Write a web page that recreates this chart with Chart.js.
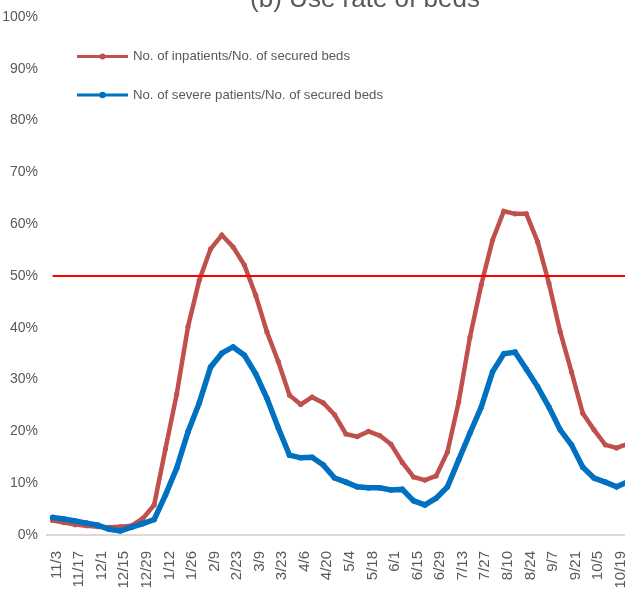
<!DOCTYPE html>
<html>
<head>
<meta charset="utf-8">
<script src="https://cdn.jsdelivr.net/npm/chart.js@4.4.1/dist/chart.umd.min.js"></script>
<style>
  html, body { margin: 0; padding: 0; background: #ffffff; overflow: hidden; }
  #wrap { position: relative; width: 625px; height: 599px; overflow: hidden; }
  canvas { display: block; }
</style>
</head>
<body>
<div id="wrap"><canvas id="c" width="654" height="599"></canvas></div>
<script>
const TITLE = "(b) Use rate of beds";
const weeks = ["11/3","11/10","11/17","11/24","12/1","12/8","12/15","12/22","12/29","1/5","1/12","1/19","1/26","2/2","2/9","2/16","2/23","3/2","3/9","3/16","3/23","3/30","4/6","4/13","4/20","4/27","5/4","5/11","5/18","5/25","6/1","6/8","6/15","6/22","6/29","7/6","7/13","7/20","7/27","8/3","8/10","8/17","8/24","8/31","9/7","9/14","9/21","9/28","10/5","10/12","10/19","10/26"];
const inpatientsLabel = "No. of inpatients/No. of secured beds";
const inpatients = [2.8,2.4,2.0,1.8,1.6,1.5,1.6,1.8,3.2,5.8,16.6,27.2,40.2,49.2,55.2,57.9,55.6,52.1,46.3,39.2,33.5,27.0,25.2,26.6,25.5,23.2,19.5,19.0,20.0,19.2,17.5,14.0,11.2,10.6,11.4,16.0,25.7,38.2,48.3,56.9,62.5,62.0,62.0,56.6,48.6,39.2,31.5,23.5,20.3,17.4,16.8,17.6];
const severeLabel = "No. of severe patients/No. of secured beds";
const severe = [3.4,3.1,2.7,2.3,1.9,1.1,0.8,1.5,2.2,3.0,7.7,12.9,19.9,25.5,32.4,35.1,36.3,34.7,31.1,26.4,20.7,15.4,14.9,15.0,13.5,11.0,10.2,9.3,9.1,9.1,8.7,8.8,6.6,5.8,7.1,9.3,14.5,19.7,24.7,31.5,35.0,35.3,32.0,28.6,24.7,20.3,17.4,13.1,11.0,10.2,9.3,10.3];
const THRESHOLD = 50;
const yTicks = [0,10,20,30,40,50,60,70,80,90,100];

const RED = "#C0504D";
const BLUE = "#0070C0";
const GRAY_TEXT = "#595959";

const overlay = {
  id: "overlay",
  afterDatasetsDraw(chart) {
    const ctx = chart.ctx;
    const x = chart.scales.x, y = chart.scales.y;
    const yy = y.getPixelForValue(THRESHOLD);
    ctx.save();
    ctx.strokeStyle = "#FF0000";
    ctx.lineWidth = 2;
    ctx.beginPath();
    ctx.moveTo(x.getPixelForValue(0), yy);
    ctx.lineTo(chart.chartArea.right, yy);
    ctx.stroke();
    ctx.restore();
  },
  afterDraw(chart) {
    const ctx = chart.ctx;
    ctx.save();
    ctx.fillStyle = GRAY_TEXT;
    ctx.font = "26px 'Liberation Sans', Arial, sans-serif";
    ctx.textAlign = "center";
    ctx.textBaseline = "alphabetic";
    ctx.fillText(TITLE, 365, 7);
    const items = [
      { label: chart.data.datasets[1].label, color: RED, y: 56.5, lw: 3, r: 3 },
      { label: chart.data.datasets[0].label, color: BLUE, y: 95, lw: 3, r: 3.2 }
    ];
    ctx.font = "13.2px 'Liberation Sans', Arial, sans-serif";
    ctx.textAlign = "left";
    ctx.textBaseline = "middle";
    items.forEach(it => {
      ctx.strokeStyle = it.color;
      ctx.lineWidth = it.lw;
      ctx.beginPath();
      ctx.moveTo(77, it.y);
      ctx.lineTo(128, it.y);
      ctx.stroke();
      ctx.fillStyle = it.color;
      ctx.beginPath();
      ctx.arc(102.5, it.y, it.r, 0, Math.PI * 2);
      ctx.fill();
      ctx.fillStyle = GRAY_TEXT;
      ctx.fillText(it.label, 133, it.y);
    });
    ctx.restore();
  }
};

new Chart(document.getElementById("c"), {
  type: "line",
  data: {
    labels: weeks,
    datasets: [
      {
        label: severeLabel,
        data: severe,
        borderColor: BLUE,
        backgroundColor: BLUE,
        borderWidth: 5.5,
        pointRadius: 2.8,
        pointBorderWidth: 0,
        pointBackgroundColor: BLUE,
        tension: 0,
        fill: false
      },
      {
        label: inpatientsLabel,
        data: inpatients,
        borderColor: RED,
        backgroundColor: RED,
        borderWidth: 4.5,
        pointRadius: 2.6,
        pointBorderWidth: 0,
        pointBackgroundColor: RED,
        tension: 0,
        fill: false
      }
    ]
  },
  options: {
    responsive: false,
    animation: false,
    devicePixelRatio: 1,
    layout: { padding: { top: 17, right: 12, left: 0, bottom: 0 } },
    plugins: {
      legend: { display: false },
      tooltip: { enabled: false },
      title: { display: false }
    },
    scales: {
      x: {
        type: "category",
        offset: true,
        grid: { display: false },
        border: { display: true, color: "#D9D9D9", width: 2 },
        ticks: {
          autoSkip: false,
          maxRotation: 90,
          minRotation: 90,
          padding: 8,
          labelOffset: 4,
          color: GRAY_TEXT,
          font: { family: "'Liberation Sans', Arial, sans-serif", size: 15 },
          callback: function (v, i) { return i % 2 === 0 ? weeks[i] : ""; }
        },
        afterFit: function (s) { s.height = 64; }
      },
      y: {
        min: 0,
        max: 100,
        grid: { display: false },
        border: { display: false },
        afterBuildTicks: function (s) { s.ticks = yTicks.map(v => ({ value: v })); },
        ticks: {
          padding: 1,
          color: GRAY_TEXT,
          font: { family: "'Liberation Sans', Arial, sans-serif", size: 14 },
          callback: function (v) { return v + "%"; }
        },
        afterFit: function (s) { s.width = 47; }
      }
    }
  },
  plugins: [overlay]
});
</script>
</body>
</html>
